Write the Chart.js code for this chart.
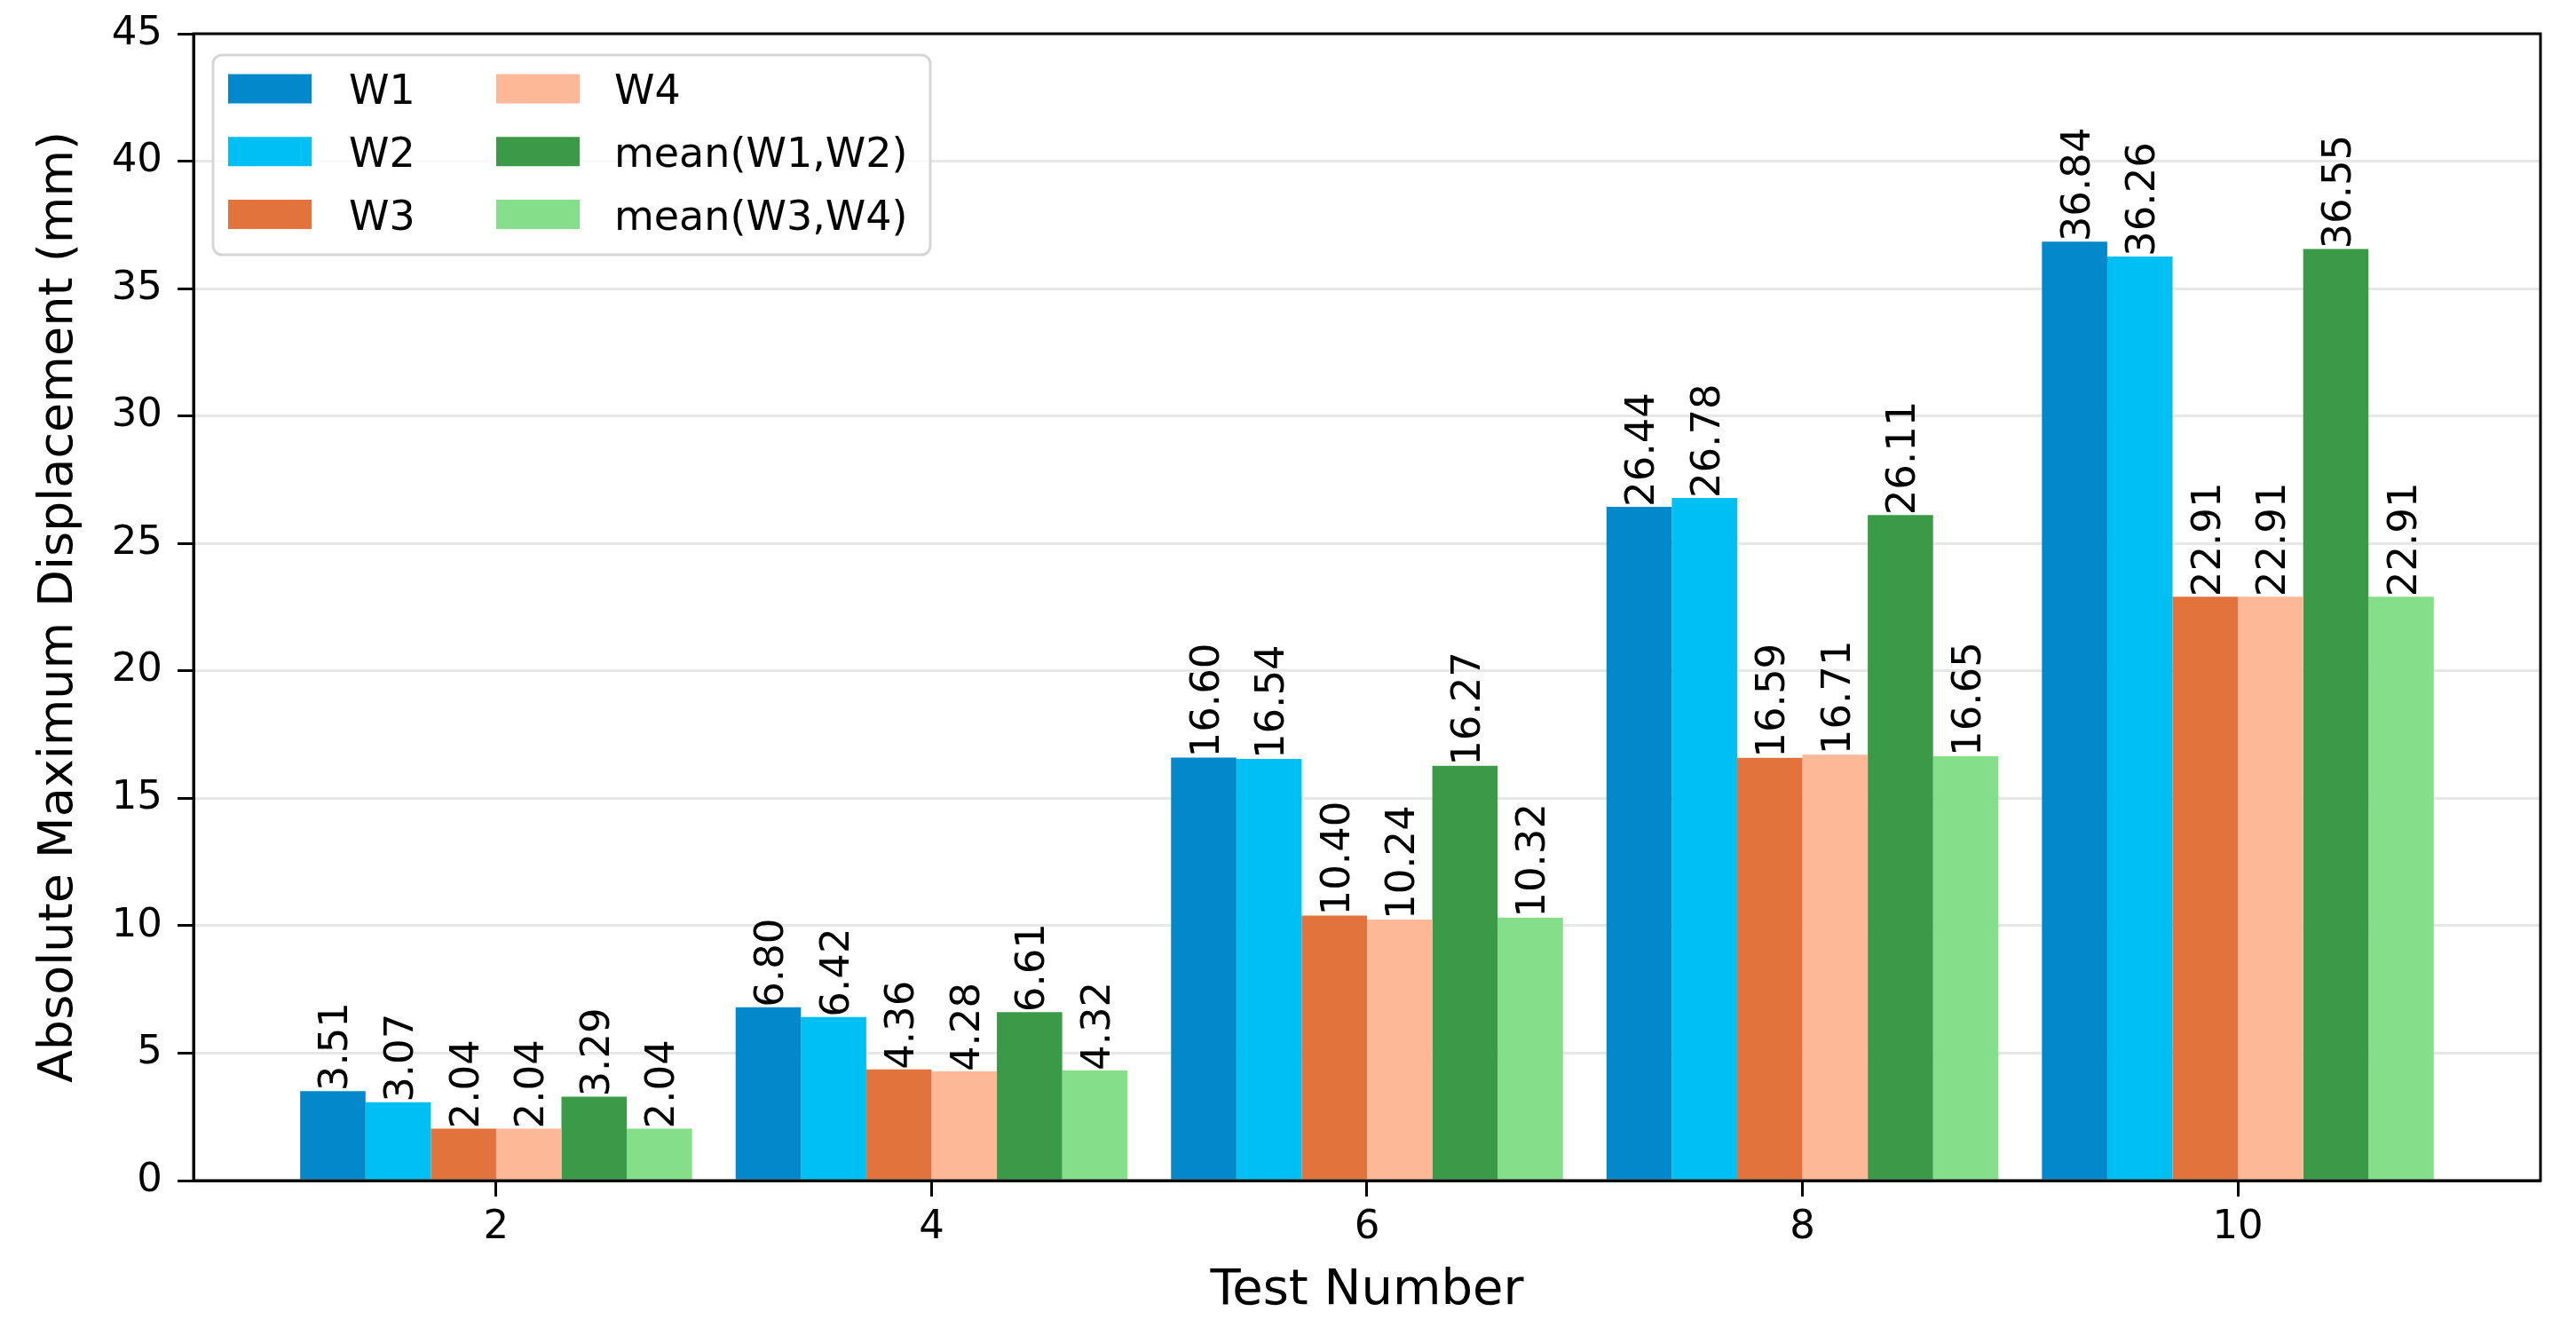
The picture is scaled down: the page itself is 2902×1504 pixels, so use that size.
<!DOCTYPE html>
<html>
<head>
<meta charset="utf-8">
<script src="https://cdn.jsdelivr.net/npm/chart.js@4.4.1/dist/chart.umd.min.js"></script>
<style>
  html, body { margin: 0; padding: 0; background: #fff; }
  #wrap { width: 2902px; height: 1504px; position: relative; }
</style>
</head>
<body>
<div id="wrap"><canvas id="grafico"></canvas></div>
<script>
// dados
const testNumbers = [2, 4, 6, 8, 10];
const yTicks = [0, 5, 10, 15, 20, 25, 30, 35, 40, 45];
const seriesLabels = ["W1", "W2", "W3", "W4", "mean(W1,W2)", "mean(W3,W4)"];
const w1 = [3.51, 6.80, 16.60, 26.44, 36.84];
const w2 = [3.07, 6.42, 16.54, 26.78, 36.26];
const w3 = [2.04, 4.36, 10.40, 16.59, 22.91];
const w4 = [2.04, 4.28, 10.24, 16.71, 22.91];
const meanW1W2 = [3.29, 6.61, 16.27, 26.11, 36.55];
const meanW3W4 = [2.04, 4.32, 10.32, 16.65, 22.91];

const cores = ["#0288cb", "#00bff2", "#e2733c", "#fdb897", "#3a9a47", "#85de89"];
const valores = [w1, w2, w3, w4, meanW1W2, meanW3W4];
const fonte = "'DejaVu Sans', sans-serif";

Chart.defaults.font.family = fonte;
Chart.defaults.color = "#000";

// rótulos verticais em cima das barras
const rotulosPlugin = {
  id: "rotulos",
  afterDraw(chart) {
    const ctx = chart.ctx;
    ctx.save();
    ctx.font = "45px " + fonte;
    ctx.fillStyle = "#000";
    ctx.textAlign = "left";
    ctx.textBaseline = "alphabetic";
    chart.data.datasets.forEach((ds, i) => {
      chart.getDatasetMeta(i).data.forEach((bar, j) => {
        ctx.save();
        ctx.translate(bar.x, bar.y);
        ctx.rotate(-Math.PI / 2);
        ctx.fillText(ds.data[j].toFixed(2), 0, 16.5);
        ctx.restore();
      });
    });
    ctx.restore();
  }
};

// moldura (top e right)
const molduraPlugin = {
  id: "moldura",
  afterDraw(chart) {
    const { ctx, chartArea: a } = chart;
    ctx.save();
    ctx.strokeStyle = "#000";
    ctx.lineWidth = 3;
    ctx.strokeRect(a.left, a.top, a.right - a.left, a.bottom - a.top);
    ctx.restore();
  }
};

// legenda dentro da área, 2 colunas
const legendaPlugin = {
  id: "legendaInterna",
  afterDraw(chart) {
    const { ctx, chartArea } = chart;
    const x0 = chartArea.left + 22, y0 = chartArea.top + 24;
    ctx.save();
    ctx.beginPath();
    ctx.roundRect(x0, y0, 808, 225, 10);
    ctx.fillStyle = "rgba(255,255,255,0.8)";
    ctx.fill();
    ctx.lineWidth = 3;
    ctx.strokeStyle = "#d6d6d6";
    ctx.stroke();
    ctx.font = "46px " + fonte;
    ctx.textBaseline = "alphabetic";
    chart.data.datasets.forEach((ds, i) => {
      const col = Math.floor(i / 3), row = i % 3;
      const px = x0 + 17 + col * 302;
      const cy = y0 + 38 + row * 70.75;
      ctx.fillStyle = ds.backgroundColor;
      ctx.fillRect(px, cy - 16.5, 94, 33);
      ctx.fillStyle = "#000";
      ctx.fillText(ds.label, px + 136 - col * 3, cy + 17);
    });
    ctx.restore();
  }
};

const canvas = document.getElementById("grafico");
new Chart(canvas, {
  type: "bar",
  data: {
    labels: testNumbers,
    datasets: seriesLabels.map((nome, i) => ({
      label: nome,
      data: valores[i],
      backgroundColor: cores[i],
      borderWidth: 0,
      categoryPercentage: 0.9,
      barPercentage: 1.0
    }))
  },
  options: {
    responsive: true,
    maintainAspectRatio: false,
    animation: false,
    devicePixelRatio: 1,
    layout: { padding: { top: 38, right: 40, left: 0, bottom: 0 } },
    plugins: {
      legend: { display: false },
      tooltip: { enabled: false }
    },
    scales: {
      x: {
        type: "linear",
        min: 0.61,
        max: 11.39,
        bounds: "data",
        offset: false,
        z: 1,
        grid: { offset: false, drawOnChartArea: false, color: "rgba(0,0,0,0)", tickColor: "#000", tickLength: 18, tickWidth: 3 },
        border: { color: "#000", width: 3 },
        afterBuildTicks: s => { s.ticks = testNumbers.map(v => ({ value: v })); },
        afterFit: s => { s.height = 174; s.paddingLeft = 0; s.paddingRight = 0; },
        ticks: { font: { size: 45 }, color: "#000", padding: 8, callback: v => String(v) },
        title: { display: true, text: "Test Number", font: { size: 56 }, color: "#000", padding: { top: 0, bottom: 16 } }
      },
      y: {
        min: 0,
        max: 45,
        z: 1,
        afterBuildTicks: s => { s.ticks = yTicks.map(v => ({ value: v })); },
        grid: { color: "rgba(160,160,160,0.25)", lineWidth: 3, tickColor: "#000", tickLength: 18, tickWidth: 3 },
        border: { color: "#000", width: 3 },
        afterFit: s => { s.width = 218; s.paddingTop = 0; s.paddingBottom = 0; },
        ticks: { font: { size: 45 }, color: "#000", padding: 17 },
        title: { display: true, text: "Absolute Maximum Displacement (mm)", font: { size: 54 }, color: "#000", padding: { top: 35, bottom: 0 } }
      }
    }
  },
  plugins: [rotulosPlugin, molduraPlugin, legendaPlugin]
});
</script>
</body>
</html>
